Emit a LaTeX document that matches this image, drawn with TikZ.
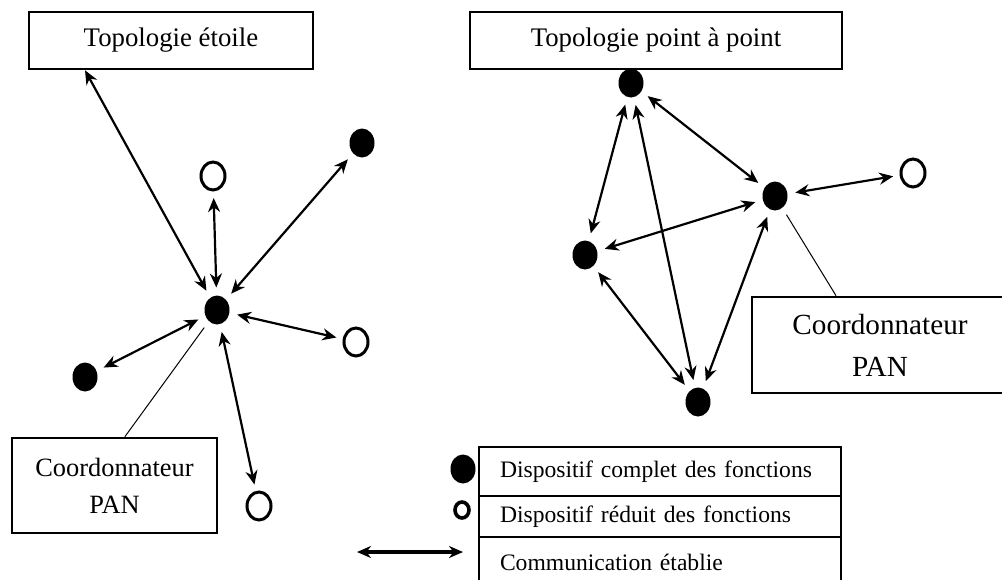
\documentclass[tikz,border=0pt]{standalone}
\usepackage{fontspec}
\setmainfont{Liberation Serif}
\usetikzlibrary{arrows.meta,shapes.geometric,calc}
\tikzset{
  full/.style={ellipse, fill=black, inner sep=0pt, minimum width=12.5pt, minimum height=14.5pt, outer sep=4pt},
  reduced/.style={ellipse, draw=black, line width=1.5pt, inner sep=0pt, minimum width=12pt, minimum height=14pt, outer sep=4pt},
  titlebox/.style={draw, line width=1.3pt, minimum height=28.5pt, font=\fontsize{13.4}{16}\selectfont},
  coordbox/.style={draw, line width=1.3pt, align=center},
  legrow/.style={draw, line width=1.3pt, outer sep=0pt, inner xsep=10.5pt, text width=160pt, align=left, anchor=north, font=\fontsize{11.8}{14}\selectfont},
  link/.style={<->, >={Stealth[length=7pt,width=6pt]}, line width=1.1pt},
  pointer/.style={line width=0.5pt}
}
\begin{document}
\begin{tikzpicture}[x=0.5pt,y=-0.5pt]
  \useasboundingbox (0,0) rectangle (1002,579);
  \node[titlebox, minimum width=142pt] (T1) at (171,40.5) {Topologie étoile};
  \node[titlebox, minimum width=186pt] (T2) at (656,40.5) {Topologie point à point};
  % etoile
  \node[full] (C) at (217,310) {};
  \node[reduced] (E1) at (213,176) {};
  \node[full] (E2) at (362,143) {};
  \node[reduced] (E3) at (356,342) {};
  \node[reduced] (E4) at (259,506) {};
  \node[full] (E5) at (85,377) {};
  \coordinate (Tc) at ($(T1.south west)!0.2!(T1.south east)$);
  \draw[link] (Tc) -- (C);
  \foreach \e in {1,...,5} \draw[link] (C) -- (E\e);
  \node[coordbox, minimum width=102.5pt, minimum height=47.5pt, font=\fontsize{13.2}{18.5}\selectfont] (K1) at (114.5,485.5) {Coordonnateur\\PAN};
  \draw[pointer] (C) -- ($(K1.north west)!0.55!(K1.north east)$);
  % point a point
  \node[full] (P1) at (631,83) {};
  \node[full] (P2) at (775,196) {};
  \node[reduced] (P3) at (913,173) {};
  \node[full] (P4) at (585,255) {};
  \node[full] (P5) at (698,402) {};
  \foreach \a/\b in {1/2,1/4,1/5,2/3,2/4,2/5,4/5} \draw[link] (P\a) -- (P\b);
  \node[coordbox, minimum width=128pt, minimum height=48pt, font=\fontsize{14.6}{21}\selectfont] (K2) at (880,345) {Coordonnateur\\PAN};
  \draw[pointer] (P2) -- ($(K2.north west)!0.33!(K2.north east)$);
  % legende
  \node[legrow, minimum height=24.5pt] (L1) at (660,447) {Dispositif complet des fonctions};
  \node[legrow, minimum height=20.5pt] (L2) at (L1.south) {Dispositif réduit des fonctions};
  \node[legrow, minimum height=25pt] (L3) at (L2.south) {Communication établie};
  \node[full] (Lf) at (463,469) {};
  \node[reduced, minimum width=7pt, minimum height=8pt, line width=1.8pt] (Lr) at (462,510) {};
  \coordinate (La) at (357,552);
  \coordinate (Lb) at (463,552);
  \draw[link, line width=1.8pt] (La) -- (Lb);
\end{tikzpicture}
\end{document}
